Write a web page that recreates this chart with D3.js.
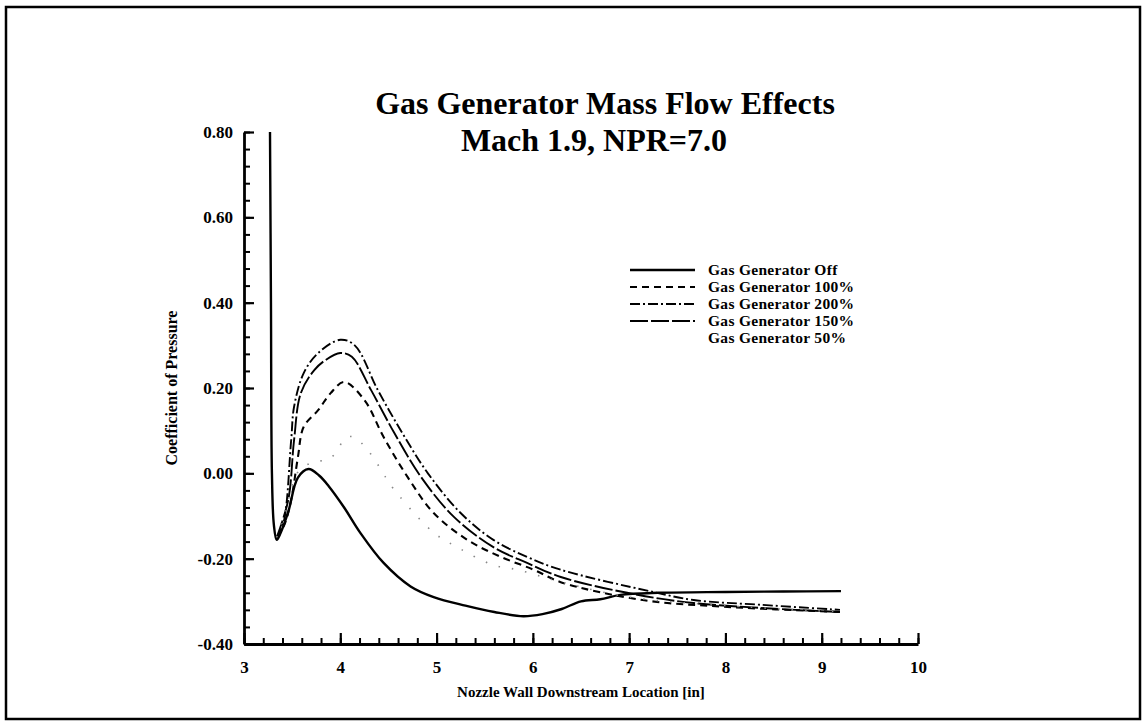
<!DOCTYPE html>
<html>
<head>
<meta charset="utf-8">
<script src="https://cdn.jsdelivr.net/npm/d3@7"></script>
<style>
    body { margin: 0; background: #fff; }
    svg { display: block; }
</style>
</head>
<body>
<div id="chart"></div>
<script>
// values
const offX = [3.27, 3.28, 3.29, 3.31, 3.34, 3.38, 3.46, 3.56, 3.67, 3.78, 3.88, 4.04, 4.21, 4.45, 4.73, 4.97, 5.3, 5.6, 5.9, 6.1, 6.3, 6.5, 6.7, 6.91, 7.3, 8.0, 8.6, 9.2];
const offY = [0.80, 0.40, 0.00, -0.12, -0.156, -0.14, -0.09, -0.01, 0.01, -0.005, -0.03, -0.08, -0.14, -0.21, -0.265, -0.29, -0.31, -0.325, -0.335, -0.33, -0.318, -0.30, -0.295, -0.285, -0.28, -0.278, -0.277, -0.276];

const gg100X = [3.34, 3.42, 3.49, 3.56, 3.62, 3.77, 3.90, 4.04, 4.25, 4.45, 4.70, 4.97, 5.32, 5.67, 6.01, 6.29, 7.14, 8.02, 9.2];
const gg100Y = [-0.15, -0.12, -0.062, 0.038, 0.109, 0.148, 0.188, 0.214, 0.172, 0.085, -0.009, -0.093, -0.156, -0.196, -0.226, -0.255, -0.297, -0.313, -0.325];

const gg200X = [3.34, 3.41, 3.49, 3.52, 3.62, 3.77, 4.0, 4.15, 4.39, 4.63, 4.91, 5.25, 5.59, 5.94, 6.29, 7.25, 7.67, 8.36, 9.19];
const gg200Y = [-0.15, -0.116, 0.078, 0.156, 0.235, 0.282, 0.313, 0.30, 0.195, 0.10, 0.0, -0.093, -0.156, -0.196, -0.226, -0.278, -0.297, -0.308, -0.32];

const gg150X = [3.34, 3.46, 3.52, 3.59, 3.73, 3.85, 4.0, 4.12, 4.32, 4.56, 4.84, 5.18, 5.59, 5.94, 6.29, 6.98, 7.67, 9.19];
const gg150Y = [-0.15, -0.062, 0.078, 0.188, 0.242, 0.266, 0.282, 0.273, 0.195, 0.095, -0.009, -0.102, -0.173, -0.21, -0.243, -0.28, -0.304, -0.325];

const gg50X = [3.34, 3.45, 3.55, 3.69, 3.90, 4.06, 4.14, 4.3, 4.47, 4.52, 4.96, 5.23, 5.59, 5.84, 6.3, 7.0, 8.0, 9.2];
const gg50Y = [-0.15, -0.07, 0.0, 0.024, 0.036, 0.083, 0.085, 0.05, -0.009, -0.027, -0.137, -0.175, -0.215, -0.226, -0.255, -0.29, -0.31, -0.325];

const seriesNames = ["Gas Generator Off", "Gas Generator 100%", "Gas Generator 200%", "Gas Generator 150%", "Gas Generator 50%"];

const xTicks = [3, 4, 5, 6, 7, 8, 9, 10];
const xTickLabels = ["3", "4", "5", "6", "7", "8", "9", "10"];
const yTicks = [-0.4, -0.2, 0.0, 0.2, 0.4, 0.6, 0.8];
const yTickLabels = ["-0.40", "-0.20", "0.00", "0.20", "0.40", "0.60", "0.80"];

const titleLines = ["Gas Generator Mass Flow Effects", "Mach 1.9, NPR=7.0"];
const xLabel = "Nozzle Wall Downstream Location [in]";
const yLabel = "Coefficient of Pressure";

const W = 1147, H = 726;
const font = "'Liberation Serif', 'Times New Roman', serif";

let svg = d3.select("#chart").append("svg")
    .attr("width", W)
    .attr("height", H);

svg.append("rect")
    .attr("width", W).attr("height", H)
    .attr("fill", "#fff");

// outer frame
svg.append("rect")
    .attr("x", 6).attr("y", 7)
    .attr("width", 1134).attr("height", 712)
    .attr("fill", "none")
    .attr("stroke", "#000")
    .attr("stroke-width", 2.5);

let x = d3.scaleLinear().domain([3, 10]).range([244, 918]);
let y = d3.scaleLinear().domain([-0.4, 0.8]).range([644, 132]);

// title
svg.selectAll(".title")
    .data(titleLines)
    .enter().append("text")
    .attr("class", "title")
    .attr("x", (d, i) => i === 0 ? 605 : 594)
    .attr("y", (d, i) => 114 + i * 37)
    .attr("text-anchor", "middle")
    .attr("font-family", font)
    .attr("font-weight", "bold")
    .attr("font-size", "32px")
    .text(d => d);

// minor ticks first, then major ticks + labels
let xMinor = d3.range(3, 10.001, 0.2);
let yMinor = d3.range(-0.4, 0.8001, 0.04);

svg.append("g")
    .attr("transform", `translate(0, ${y(-0.4)})`)
    .call(d3.axisBottom(x).tickValues(xMinor).tickSize(-6).tickSizeOuter(0).tickFormat(""))
    .call(g => g.select(".domain").remove())
    .selectAll("line").attr("stroke", "#000").attr("stroke-width", 2);

svg.append("g")
    .attr("transform", `translate(${x(3)}, 0)`)
    .call(d3.axisLeft(y).tickValues(yMinor).tickSize(-6).tickSizeOuter(0).tickFormat(""))
    .call(g => g.select(".domain").remove())
    .selectAll("line").attr("stroke", "#000").attr("stroke-width", 2);

let xAxis = svg.append("g")
    .attr("class", "x-axis")
    .attr("transform", `translate(0, ${y(-0.4)})`)
    .call(d3.axisBottom(x)
        .tickValues(xTicks)
        .tickSize(-11)
        .tickSizeOuter(0)
        .tickPadding(17)
        .tickFormat((d, i) => xTickLabels[i]));

let yAxis = svg.append("g")
    .attr("class", "y-axis")
    .attr("transform", `translate(${x(3)}, 0)`)
    .call(d3.axisLeft(y)
        .tickValues(yTicks)
        .tickSize(-10)
        .tickSizeOuter(0)
        .tickPadding(11)
        .tickFormat((d, i) => yTickLabels[i]));

[xAxis, yAxis].forEach(g => {
    g.select(".domain").attr("stroke", "#000").attr("stroke-width", 2.8);
    g.selectAll(".tick line").attr("stroke", "#000").attr("stroke-width", 2.2);
    g.selectAll("text")
        .attr("font-family", font)
        .attr("font-weight", "bold")
        .attr("font-size", "17px")
        .attr("fill", "#000");
});

// axis labels
svg.append("text")
    .attr("x", 581)
    .attr("y", 697)
    .attr("text-anchor", "middle")
    .attr("font-family", font)
    .attr("font-weight", "bold")
    .attr("font-size", "15px")
    .text(xLabel);

svg.append("text")
    .attr("transform", "translate(177, 388) rotate(-90)")
    .attr("text-anchor", "middle")
    .attr("font-family", font)
    .attr("font-weight", "bold")
    .attr("font-size", "16px")
    .text(yLabel);

// curves
let series = [
    {xs: offX, ys: offY, dash: null, width: 2.4, color: "#000"},
    {xs: gg100X, ys: gg100Y, dash: "7,5", width: 2.1, color: "#000"},
    {xs: gg200X, ys: gg200Y, dash: "10,3,2,3", width: 1.9, color: "#000"},
    {xs: gg150X, ys: gg150Y, dash: "18,3", width: 1.9, color: "#000"},
    {xs: gg50X, ys: gg50Y, dash: "1.5,12", width: 1.6, color: "#888"}
];

let line = d3.line()
    .x(d => x(d[0]))
    .y(d => y(d[1]))
    .curve(d3.curveCatmullRom.alpha(0.5));

series.forEach(s => {
    svg.append("path")
        .datum(s.xs.map((v, i) => [v, s.ys[i]]))
        .attr("fill", "none")
        .attr("stroke", s.color)
        .attr("stroke-width", s.width)
        .attr("stroke-dasharray", s.dash)
        .attr("d", line);
});

// legend
let legend = svg.append("g").attr("transform", "translate(630, 270)");

series.forEach((s, i) => {
    let row = legend.append("g").attr("transform", `translate(0, ${i * 17})`);
    if (i < 4) {
        row.append("line")
            .attr("x1", 0).attr("x2", 65)
            .attr("stroke", s.color)
            .attr("stroke-width", s.width)
            .attr("stroke-dasharray", s.dash);
    }
    row.append("text")
        .attr("x", 78)
        .attr("dy", "0.33em")
        .attr("font-family", font)
        .attr("font-weight", "bold")
        .attr("font-size", "15.5px")
        .attr("letter-spacing", "0.3px")
        .text(seriesNames[i]);
});
</script>
</body>
</html>
